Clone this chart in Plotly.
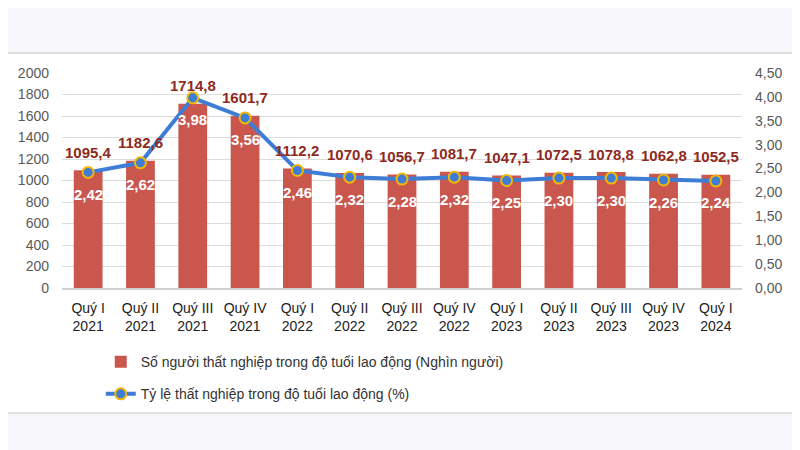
import plotly.graph_objects as go

quarters = ["Quý I<br>2021", "Quý II<br>2021", "Quý III<br>2021", "Quý IV<br>2021",
            "Quý I<br>2022", "Quý II<br>2022", "Quý III<br>2022", "Quý IV<br>2022",
            "Quý I<br>2023", "Quý II<br>2023", "Quý III<br>2023", "Quý IV<br>2023",
            "Quý I<br>2024"]
unemployed = [1095.4, 1182.6, 1714.8, 1601.7, 1112.2, 1070.6, 1056.7, 1081.7,
              1047.1, 1072.5, 1078.8, 1062.8, 1052.5]
rate = [2.42, 2.62, 3.98, 3.56, 2.46, 2.32, 2.28, 2.32, 2.25, 2.30, 2.30, 2.26, 2.24]

bar_name = "Số người thất nghiệp trong độ tuổi lao động (Nghìn người)"
line_name = "Tỷ lệ thất nghiệp trong độ tuổi lao động (%)"

font = "Liberation Sans, Arial"

fig = go.Figure()
fig.add_trace(go.Bar(
    x=quarters, y=unemployed, name=bar_name, legendgroup="bar",
    marker=dict(color="#c9574e", line=dict(width=0)),
))
fig.add_trace(go.Scatter(
    x=quarters, y=rate, name=line_name, yaxis="y2", legendgroup="line",
    mode="lines+markers",
    line=dict(color="#3d7dd6", width=4),
    marker=dict(size=11, color="#3d7dd6", line=dict(color="#f2b705", width=2)),
))

# value labels
for q, v in zip(quarters, unemployed):
    fig.add_annotation(x=q, y=v, yref="y", text="<b>%s</b>" % f"{v:.1f}".replace(".", ","),
                       showarrow=False, yshift=18,
                       font=dict(family=font, size=15, color="#8e2a22"))
for q, r in zip(quarters, rate):
    fig.add_annotation(x=q, y=r, yref="y2", text="<b>%s</b>" % f"{r:.2f}".replace(".", ","),
                       showarrow=False, yshift=-22,
                       font=dict(family=font, size=15, color="white"))

# white chart box on grey page
fig.add_shape(type="rect", xref="paper", yref="paper", x0=-0.2, x1=1.082,
              y0=-0.581, y1=1.093, fillcolor="white", line=dict(color="#d9d9d9", width=1.5),
              layer="below")

fig.update_layout(
    width=792, height=442,
    margin=dict(l=54, r=58, t=65, b=162),
    paper_bgcolor="#f8f7fb",
    plot_bgcolor="rgba(0,0,0,0)",
    separators=",.",
    bargap=0.45,
    showlegend=True,
    legend=dict(orientation="v", x=0.057, xanchor="left", y=-0.27, yanchor="top",
                font=dict(family=font, size=14, color="#333333"),
                bgcolor="rgba(0,0,0,0)", tracegroupgap=11),
    xaxis=dict(range=[-0.5, 12.5], showgrid=False, showline=True, linecolor="#d0d0d0",
               linewidth=1.5, ticks="", automargin=False, ticklabelstandoff=6,
               tickfont=dict(family=font, size=14, color="#222222")),
    yaxis=dict(range=[0, 2000], dtick=200, showgrid=True, gridcolor="#dcdcdc", gridwidth=1,
               zeroline=False, ticks="", automargin=False, ticklabelstandoff=12,
               tickfont=dict(family=font, size=14, color="#595959")),
    yaxis2=dict(range=[0, 4.5], dtick=0.5, tickformat=".2f", overlaying="y", side="right",
                showgrid=False, zeroline=False, ticks="", automargin=False, ticklabelstandoff=12,
                tickfont=dict(family=font, size=14, color="#595959")),
)

fig.write_html("out.html")
